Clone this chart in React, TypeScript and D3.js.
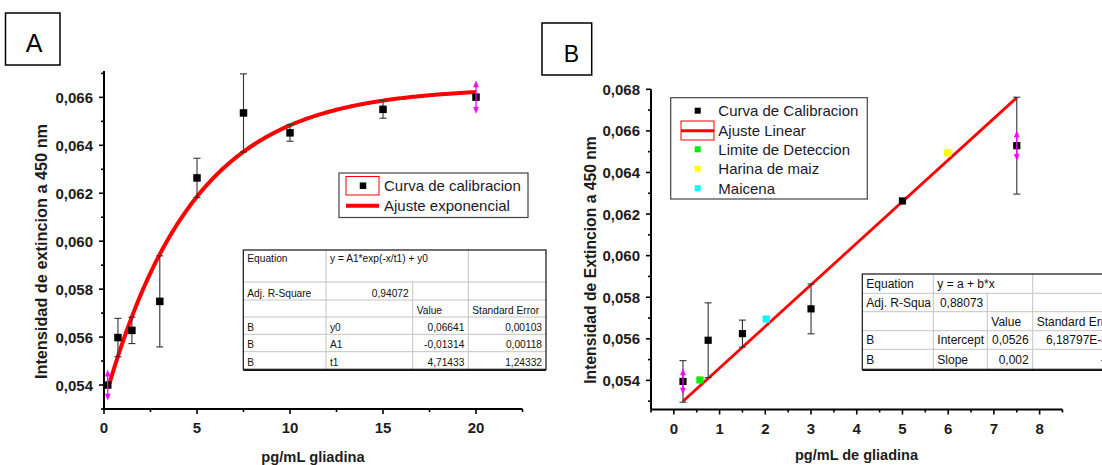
import React from "react";
import * as d3 from "d3";

// ---------- Panel A data ----------
const xA = [0.2, 0.75, 1.5, 3, 5, 7.5, 10, 15, 20];
const yA = [0.054, 0.05598, 0.05628, 0.05749, 0.06264, 0.06535, 0.06452, 0.0655, 0.06601];
const errA = [0, 0.0008, 0.00055, 0.0019, 0.00082, 0.00163, 0.00035, 0.00037, 0];
const arrowA = [0.00062, 0, 0, 0, 0, 0, 0, 0, 0.00067];
const fitA = { y0: 0.06641, A1: -0.01314, t1: 4.71433, xStart: 0.3, xEnd: 20 };
const xTicksA = [0, 5, 10, 15, 20];
const xMinorA = [2.5, 7.5, 12.5, 17.5, 22.5];
const yTicksA = [0.054, 0.056, 0.058, 0.06, 0.062, 0.064, 0.066];
const yMinorA = [0.053, 0.055, 0.057, 0.059, 0.061, 0.063, 0.065, 0.067];
const legendA = ["Curva de calibracion", "Ajuste exponencial"];
const tableARows = [
  ["Equation", "y = A1*exp(-x/t1) + y0", "", ""],
  ["Adj. R-Square", "0,94072", "", ""],
  ["", "", "Value", "Standard Error"],
  ["B", "y0", "0,06641", "0,00103"],
  ["B", "A1", "-0,01314", "0,00118"],
  ["B", "t1", "4,71433", "1,24332"],
];

// ---------- Panel B data ----------
const xB = [0.2, 0.75, 1.5, 3, 5, 7.5];
const yB = [0.05395, 0.05593, 0.05625, 0.05744, 0.06263, 0.06529];
const errB = [0.001, 0.0018, 0.00065, 0.0012, 0, 0.00233];
const arrowB = [0.0006, 0, 0, 0, 0, 0.0007];
const limiteX = [0.57];
const limiteY = [0.05402];
const harinaX = [5.99];
const harinaY = [0.06495];
const maicenaX = [2.02];
const maicenaY = [0.05695];
const fitB = { a: 0.0526, b: 0.002, xStart: 0.2, xEnd: 7.5 };
const xTicksB = [0, 1, 2, 3, 4, 5, 6, 7, 8];
const xMinorB = [-0.5, 0.5, 1.5, 2.5, 3.5, 4.5, 5.5, 6.5, 7.5, 8.5];
const yTicksB = [0.054, 0.056, 0.058, 0.06, 0.062, 0.064, 0.066, 0.068];
const yMinorB = [0.053, 0.055, 0.057, 0.059, 0.061, 0.063, 0.065, 0.067];
const legendB = ["Curva de Calibracion", "Ajuste Linear", "Limite de Deteccion", "Harina de maiz", "Maicena"];
const tableBRows = [
  ["Equation", "y = a + b*x", "", ""],
  ["Adj. R-Squa", "0,88073", "", ""],
  ["", "", "Value", "Standard Error"],
  ["B", "Intercept", "0,0526", "6,18797E-4"],
  ["B", "Slope", "0,002", "\u2013"],
];

const FONT = "'Liberation Sans', Arial, sans-serif";
const fmt = (v: number) => d3.format(".3f")(v).replace(".", ",");

// scales
const xsA = d3.scaleLinear().domain([0, 22.5]).range([104, 522.5]);
const ysA = d3.scaleLinear().domain([0.053, 0.0671]).range([409, 71]);
const xsB = d3.scaleLinear().domain([-0.5, 8.5]).range([651, 1062.5]);
const ysB = d3.scaleLinear().domain([0.0526, 0.068]).range([409.5, 89.3]);

function Axes({ xs, ys, xT, xM, yT, yM, xFmt }: any) {
  const [x0, x1] = xs.range();
  const [y0, y1] = ys.range();
  return (
    <g>
      <line x1={x0} x2={x1} y1={y0} y2={y0} stroke="#000" strokeWidth={2} />
      <line x1={x0} x2={x0} y1={y0} y2={y1} stroke="#000" strokeWidth={2} />
      {xT.map((t: number) => (
        <g key={"xt" + t}>
          <line x1={xs(t)} x2={xs(t)} y1={y0} y2={y0 + 5} stroke="#000" strokeWidth={1.6} />
          <text x={xs(t)} y={y0 + 24} textAnchor="middle" fontFamily={FONT} fontWeight="bold" fontSize={15} fill="#1c1c1c">
            {xFmt(t)}
          </text>
        </g>
      ))}
      {xM.map((t: number) => (
        <line key={"xm" + t} x1={xs(t)} x2={xs(t)} y1={y0} y2={y0 + 3} stroke="#000" strokeWidth={1.6} />
      ))}
      {yT.map((t: number) => (
        <g key={"yt" + t}>
          <line x1={x0 - 5} x2={x0} y1={ys(t)} y2={ys(t)} stroke="#000" strokeWidth={1.6} />
          <text x={x0 - 11} y={ys(t) + 5.5} textAnchor="end" fontFamily={FONT} fontWeight="bold" fontSize={15} fill="#1c1c1c">
            {fmt(t)}
          </text>
        </g>
      ))}
      {yM.map((t: number) => (
        <line key={"ym" + t} x1={x0 - 3} x2={x0} y1={ys(t)} y2={ys(t)} stroke="#000" strokeWidth={1.6} />
      ))}
    </g>
  );
}

function ErrBar({ x, yTop, yBot }: { x: number; yTop: number; yBot: number }) {
  return (
    <g stroke="#333" strokeWidth={1.1}>
      <line x1={x} x2={x} y1={yTop} y2={yBot} />
      <line x1={x - 3.5} x2={x + 3.5} y1={yTop} y2={yTop} />
      <line x1={x - 3.5} x2={x + 3.5} y1={yBot} y2={yBot} />
    </g>
  );
}

function Arrow({ x, yc, yTop, yBot }: { x: number; yc: number; yTop: number; yBot: number }) {
  return (
    <g fill="#ff00ff" stroke="#ff00ff" strokeWidth={1.3}>
      <line x1={x} x2={x} y1={yTop + 3} y2={yBot - 3} />
      <path d={`M${x},${yTop} L${x - 2.5},${yTop + 6} L${x + 2.5},${yTop + 6} Z`} strokeWidth={0.5} />
      <path d={`M${x},${yBot} L${x - 2.5},${yBot - 6} L${x + 2.5},${yBot - 6} Z`} strokeWidth={0.5} />
    </g>
  );
}

function Table({ cols, rows, data, fontSize, merged, baseOff }: any) {
  const L = cols[0];
  const R = cols[cols.length - 1];
  const T = rows[0];
  const B = rows[rows.length - 1];
  const items: any[] = [];
  // horizontal inner lines
  rows.slice(1, -1).forEach((y: number, i: number) =>
    items.push(<line key={"h" + i} x1={L} x2={R} y1={y} y2={y} stroke="#c4c4c4" strokeWidth={1} />)
  );
  // vertical inner lines
  data.forEach((row: string[], r: number) => {
    cols.slice(1, -1).forEach((x: number, c: number) => {
      if (r === 0 && merged.includes(c + 1)) return;
      items.push(
        <line key={`v${r}-${c}`} x1={x} x2={x} y1={rows[r]} y2={rows[r + 1]} stroke="#c4c4c4" strokeWidth={1} />
      );
    });
    row.forEach((txt: string, c: number) => {
      if (!txt) return;
      const rightAlign = /^[-\d\u2013]/.test(txt) && !(r === 0);
      const x = rightAlign ? cols[c + 1] - 4 : cols[c] + 4;
      const y = r === 0 ? rows[0] + baseOff[0] : rows[r + 1] - baseOff[1];
      items.push(
        <text key={`t${r}-${c}`} x={x} y={y} textAnchor={rightAlign ? "end" : "start"} fontFamily={FONT} fontSize={fontSize} fill="#111">
          {txt}
        </text>
      );
    });
  });
  return (
    <g>
      <rect x={L} y={T} width={R - L} height={B - T} fill="#fff" />
      {items}
      <rect x={L} y={T} width={R - L} height={B - T} fill="none" stroke="#111" strokeWidth={1.2} />
      <line x1={L} x2={R} y1={B + 1} y2={B + 1} stroke="#111" strokeWidth={1.2} />
    </g>
  );
}

export default function App() {
  const fitALine = d3
    .line<number>()
    .x((x) => xsA(x))
    .y((x) => ysA(fitA.A1 * Math.exp(-x / fitA.t1) + fitA.y0))
    .curve(d3.curveLinear)(d3.range(fitA.xStart, fitA.xEnd + 0.001, 0.1));

  const sq = (cx: number, cy: number, s: number, fill: string, key: string) => (
    <rect key={key} x={cx - s / 2} y={cy - s / 2} width={s} height={s} fill={fill} />
  );

  return (
    <svg width={1102} height={465} style={{ position: "absolute", left: 0, top: 0, background: "#fff" }}>
      <rect width={1102} height={465} fill="#fff" />

      {/* ================= Panel A ================= */}
      <rect x={5.5} y={13} width={54.5} height={52} fill="none" stroke="#000" strokeWidth={1.5} />
      <text x={34} y={52} textAnchor="middle" fontFamily={FONT} fontSize={25} fill="#000">A</text>

      <Table
        cols={[243.3, 326, 412.7, 468.3, 546]}
        rows={[250, 282, 300, 317, 334.3, 351.7, 369.3]}
        data={tableARows}
        fontSize={10.2}
        merged={[2]}
        baseOff={[11.5, 3.5]}
      />

      <Axes xs={xsA} ys={ysA} xT={xTicksA} xM={xMinorA} yT={yTicksA} yM={yMinorA} xFmt={(t: number) => String(t)} />

      <path d={fitALine || ""} fill="none" stroke="#ff0000" strokeWidth={4} />

      {xA.map((x, i) => (
        <g key={"a" + i}>
          {errA[i] > 0 && <ErrBar x={xsA(x)} yTop={ysA(yA[i] + errA[i])} yBot={ysA(yA[i] - errA[i])} />}
          {sq(xsA(x), ysA(yA[i]), 7.5, "#000", "sa" + i)}
          {arrowA[i] > 0 && (
            <Arrow x={xsA(x)} yc={ysA(yA[i])} yTop={ysA(yA[i] + arrowA[i])} yBot={ysA(yA[i] - arrowA[i])} />
          )}
        </g>
      ))}

      {/* legend A */}
      <rect x={339} y={173} width={189} height={44.5} fill="#fff" stroke="#444" strokeWidth={1.2} />
      <rect x={346} y={176.5} width={33} height={18.5} fill="none" stroke="#ff0000" strokeWidth={1} />
      {sq(363, 185.7, 6.5, "#000", "legA0")}
      <line x1={346} x2={379} y1={205.7} y2={205.7} stroke="#ff0000" strokeWidth={4} />
      <text x={384} y={191} fontFamily={FONT} fontSize={15} fill="#1a1a2a">{legendA[0]}</text>
      <text x={384} y={211} fontFamily={FONT} fontSize={15} fill="#1a1a2a">{legendA[1]}</text>

      {/* axis labels A */}
      <text x={313} y={461.5} textAnchor="middle" fontFamily={FONT} fontWeight="bold" fontSize={14.7} fill="#1c1c1c">
        pg/mL gliadina
      </text>
      <text
        transform="translate(46.5,251.5) rotate(-90)"
        textAnchor="middle"
        fontFamily={FONT}
        fontWeight="bold"
        fontSize={16.3}
        fill="#1c1c1c"
      >
        Intensidad de extincion a 450 nm
      </text>

      {/* ================= Panel B ================= */}
      <rect x={542} y={23} width={49.7} height={52} fill="none" stroke="#000" strokeWidth={1.5} />
      <text x={571.5} y={61.7} textAnchor="middle" fontFamily={FONT} fontSize={23} fill="#000">B</text>

      <Table
        cols={[862.3, 933.3, 987.3, 1032.7, 1112]}
        rows={[274, 293.3, 311.7, 330.7, 349.3, 369.3]}
        data={tableBRows}
        fontSize={12}
        merged={[2]}
        baseOff={[13.5, 5]}
      />

      <Axes xs={xsB} ys={ysB} xT={xTicksB} xM={xMinorB} yT={yTicksB} yM={yMinorB} xFmt={(t: number) => String(t)} />

      <line
        x1={xsB(fitB.xStart)}
        y1={ysB(fitB.a + fitB.b * fitB.xStart)}
        x2={xsB(fitB.xEnd)}
        y2={ysB(fitB.a + fitB.b * fitB.xEnd)}
        stroke="#ff0000"
        strokeWidth={2.8}
      />

      {xB.map((x, i) => (
        <g key={"b" + i}>
          {errB[i] > 0 && <ErrBar x={xsB(x)} yTop={ysB(yB[i] + errB[i])} yBot={ysB(yB[i] - errB[i])} />}
          {sq(xsB(x), ysB(yB[i]), 7.2, "#000", "sb" + i)}
          {arrowB[i] > 0 && (
            <Arrow x={xsB(x)} yc={ysB(yB[i])} yTop={ysB(yB[i] + arrowB[i])} yBot={ysB(yB[i] - arrowB[i])} />
          )}
        </g>
      ))}
      {limiteX.map((x, i) => sq(xsB(x), ysB(limiteY[i]), 7.2, "#00ee00", "lim" + i))}
      {maicenaX.map((x, i) => sq(xsB(x), ysB(maicenaY[i]), 7.2, "#00ffff", "mai" + i))}
      {harinaX.map((x, i) => sq(xsB(x), ysB(harinaY[i]), 7.2, "#ffff00", "har" + i))}

      {/* legend B */}
      <rect x={670.7} y={97.7} width={196.6} height={101.3} fill="#fff" stroke="#444" strokeWidth={1.2} />
      {sq(697.7, 110.7, 6, "#000", "lb0")}
      <rect x={681} y={121} width={33} height={19} fill="none" stroke="#ff0000" strokeWidth={1} />
      <line x1={681} x2={714} y1={130.7} y2={130.7} stroke="#ff0000" strokeWidth={3} />
      {sq(697.7, 149.3, 6, "#00ee00", "lb2")}
      {sq(697.7, 168.7, 6, "#ffff00", "lb3")}
      {sq(697.7, 188.3, 6, "#00ffff", "lb4")}
      {legendB.map((t, i) => (
        <text key={"lgb" + i} x={718.3} y={[110.7, 130.7, 149.3, 168.7, 188.3][i] + 5.5} fontFamily={FONT} fontSize={15} fill="#1a1a2a">
          {t}
        </text>
      ))}

      {/* axis labels B */}
      <text x={856.5} y={460} textAnchor="middle" fontFamily={FONT} fontWeight="bold" fontSize={14.5} fill="#1c1c1c">
        pg/mL de gliadina
      </text>
      <text
        transform="translate(595.5,260) rotate(-90)"
        textAnchor="middle"
        fontFamily={FONT}
        fontWeight="bold"
        fontSize={15.7}
        fill="#1c1c1c"
      >
        Intensidad de Extincion a 450 nm
      </text>
    </svg>
  );
}
